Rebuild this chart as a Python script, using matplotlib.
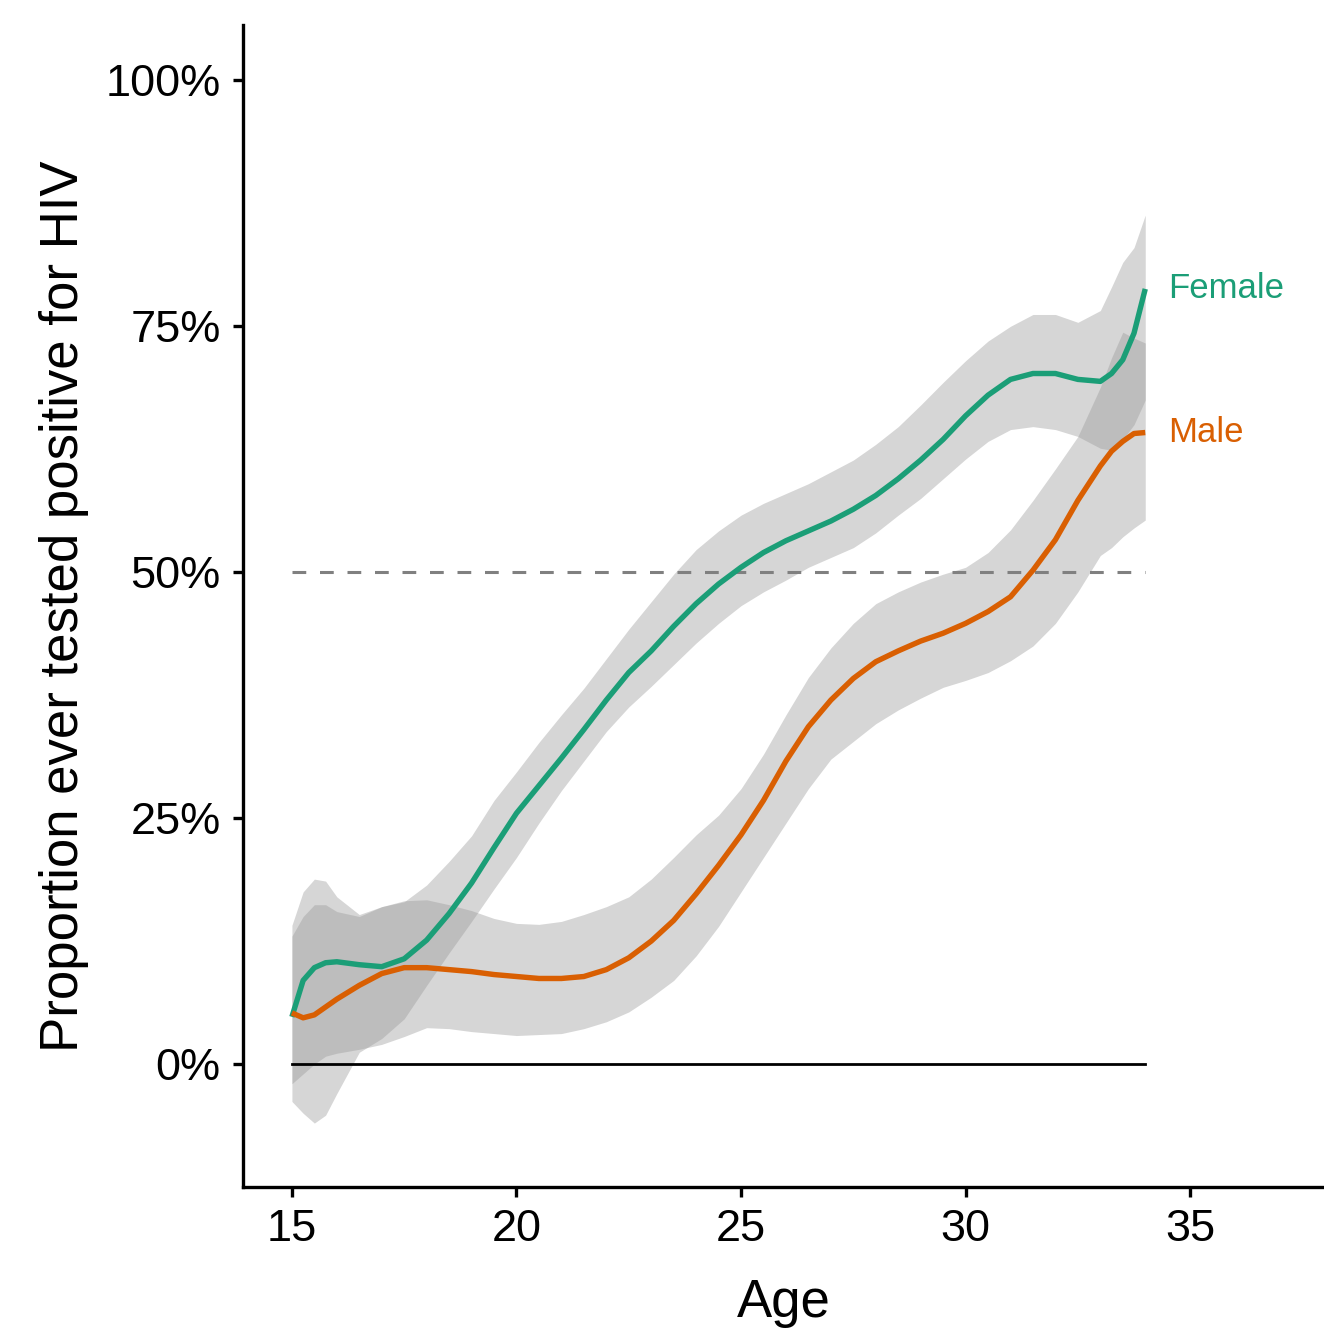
import numpy as np
import matplotlib
matplotlib.use('Agg')
import matplotlib.pyplot as plt
from matplotlib.ticker import PercentFormatter

plt.rcParams['font.family'] = ['Liberation Sans', 'DejaVu Sans']

# ages at which the smoothed curves were read
ages = [15, 15.25, 15.5, 15.75, 16, 16.5, 17, 17.5, 18, 18.5, 19, 19.5, 20, 20.5,
        21, 21.5, 22, 22.5, 23, 23.5, 24, 24.5, 25, 25.5, 26, 26.5, 27, 27.5,
        28, 28.5, 29, 29.5, 30, 30.5, 31, 31.5, 32, 32.5, 33, 33.25, 33.5, 33.75, 34]

female = [4.8, 8.5, 9.8, 10.3, 10.4, 10.1, 9.9, 10.7, 12.6, 15.3, 18.4, 22.0, 25.5, 28.3,
          31.1, 34.0, 37.0, 39.8, 42.0, 44.5, 46.8, 48.8, 50.5, 52.0, 53.2, 54.2, 55.2, 56.4,
          57.8, 59.5, 61.4, 63.5, 65.9, 68.0, 69.6, 70.2, 70.2, 69.6, 69.4, 70.2, 71.6, 74.3, 78.8]
female_hi = [14.1, 17.5, 18.8, 18.6, 17.0, 15.2, 16.0, 16.5, 18.2, 20.6, 23.2, 26.8, 29.7, 32.7,
             35.5, 38.2, 41.2, 44.2, 47.0, 49.8, 52.3, 54.2, 55.8, 57.0, 58.0, 59.0, 60.2, 61.4,
             63.0, 64.8, 67.0, 69.3, 71.5, 73.5, 75.0, 76.2, 76.2, 75.4, 76.6, 79.0, 81.5, 83.0, 86.3]
female_lo = [-3.8, -5.0, -6.0, -5.2, -3.0, 1.2, 2.6, 4.6, 8.0, 11.3, 14.5, 17.8, 21.0, 24.5,
             27.8, 30.8, 33.8, 36.3, 38.4, 40.6, 42.8, 44.8, 46.6, 48.0, 49.2, 50.5, 51.5, 52.5,
             54.0, 55.8, 57.5, 59.5, 61.5, 63.3, 64.5, 64.8, 64.5, 63.8, 62.6, 62.4, 63.5, 65.0, 67.5]

male = [5.2, 4.7, 5.0, 5.8, 6.6, 8.0, 9.2, 9.8, 9.8, 9.6, 9.4, 9.1, 8.9, 8.7,
        8.7, 8.9, 9.6, 10.8, 12.5, 14.6, 17.3, 20.2, 23.3, 26.8, 30.8, 34.3, 37.0, 39.2,
        40.9, 42.0, 43.0, 43.8, 44.8, 46.0, 47.5, 50.2, 53.3, 57.3, 60.8, 62.3, 63.3, 64.1, 64.2]
male_hi = [13.0, 15.0, 16.2, 16.2, 15.5, 15.0, 16.0, 16.6, 16.7, 16.2, 15.6, 14.8, 14.3, 14.2,
           14.5, 15.2, 16.0, 17.0, 18.8, 21.0, 23.3, 25.3, 28.0, 31.5, 35.5, 39.3, 42.3, 44.8,
           46.8, 48.0, 49.0, 49.8, 50.5, 52.0, 54.3, 57.3, 60.5, 63.8, 68.8, 71.8, 74.4, 73.8, 73.3]
male_lo = [-2.0, -1.0, 0.0, 0.8, 1.1, 1.5, 2.0, 2.8, 3.7, 3.6, 3.3, 3.1, 2.9, 3.0,
           3.1, 3.6, 4.3, 5.3, 6.8, 8.5, 11.0, 14.0, 17.5, 21.0, 24.5, 28.0, 31.0, 32.8,
           34.6, 36.0, 37.2, 38.3, 39.0, 39.8, 41.0, 42.5, 44.8, 48.0, 51.7, 52.5, 53.6, 54.5, 55.3]

female_col = '#1b9e77'
male_col = '#d95f02'

fig = plt.figure(figsize=(13.24, 13.30), dpi=100)
ax = fig.add_axes([0.1835, 0.1075, 0.8165, 0.8735])

ax.fill_between(ages, female_lo, female_hi, color='#999999', alpha=0.4, linewidth=0)
ax.fill_between(ages, male_lo, male_hi, color='#999999', alpha=0.4, linewidth=0)

ax.plot([ages[0], ages[-1]], [0, 0], color='black', lw=2.0)
ax.plot([ages[0], ages[-1]], [50, 50], color='#808080', lw=2.2, dashes=(4.5, 4.5))

ax.plot(ages, female, color=female_col, lw=3.9, solid_capstyle='butt', solid_joinstyle='round')
ax.plot(ages, male, color=male_col, lw=3.9, solid_capstyle='butt', solid_joinstyle='round')

ax.text(ages[-1] + 0.5, female[-1], 'Female', color=female_col, fontsize=25, va='center', ha='left')
ax.text(ages[-1] + 0.5, male[-1], 'Male', color=male_col, fontsize=25, va='center', ha='left')

ax.set_xlim(13.91, 37.98)
ax.set_ylim(-12.5, 105.6)
ax.set_xticks([15, 20, 25, 30, 35])
ax.set_yticks([0, 25, 50, 75, 100])
ax.yaxis.set_major_formatter(PercentFormatter(xmax=100, decimals=0))

for s in ['top', 'right']:
    ax.spines[s].set_visible(False)
for s in ['left', 'bottom']:
    ax.spines[s].set_linewidth(2.4)

ax.tick_params(axis='both', length=7, width=2.4, labelsize=32.5, color='black')
ax.tick_params(axis='y', pad=9)
ax.tick_params(axis='x', pad=9)
ax.set_xlabel('Age', fontsize=38, labelpad=20)
ax.set_ylabel('Proportion ever tested positive for HIV', fontsize=38, labelpad=12)

fig.savefig('out.png', dpi=100)
